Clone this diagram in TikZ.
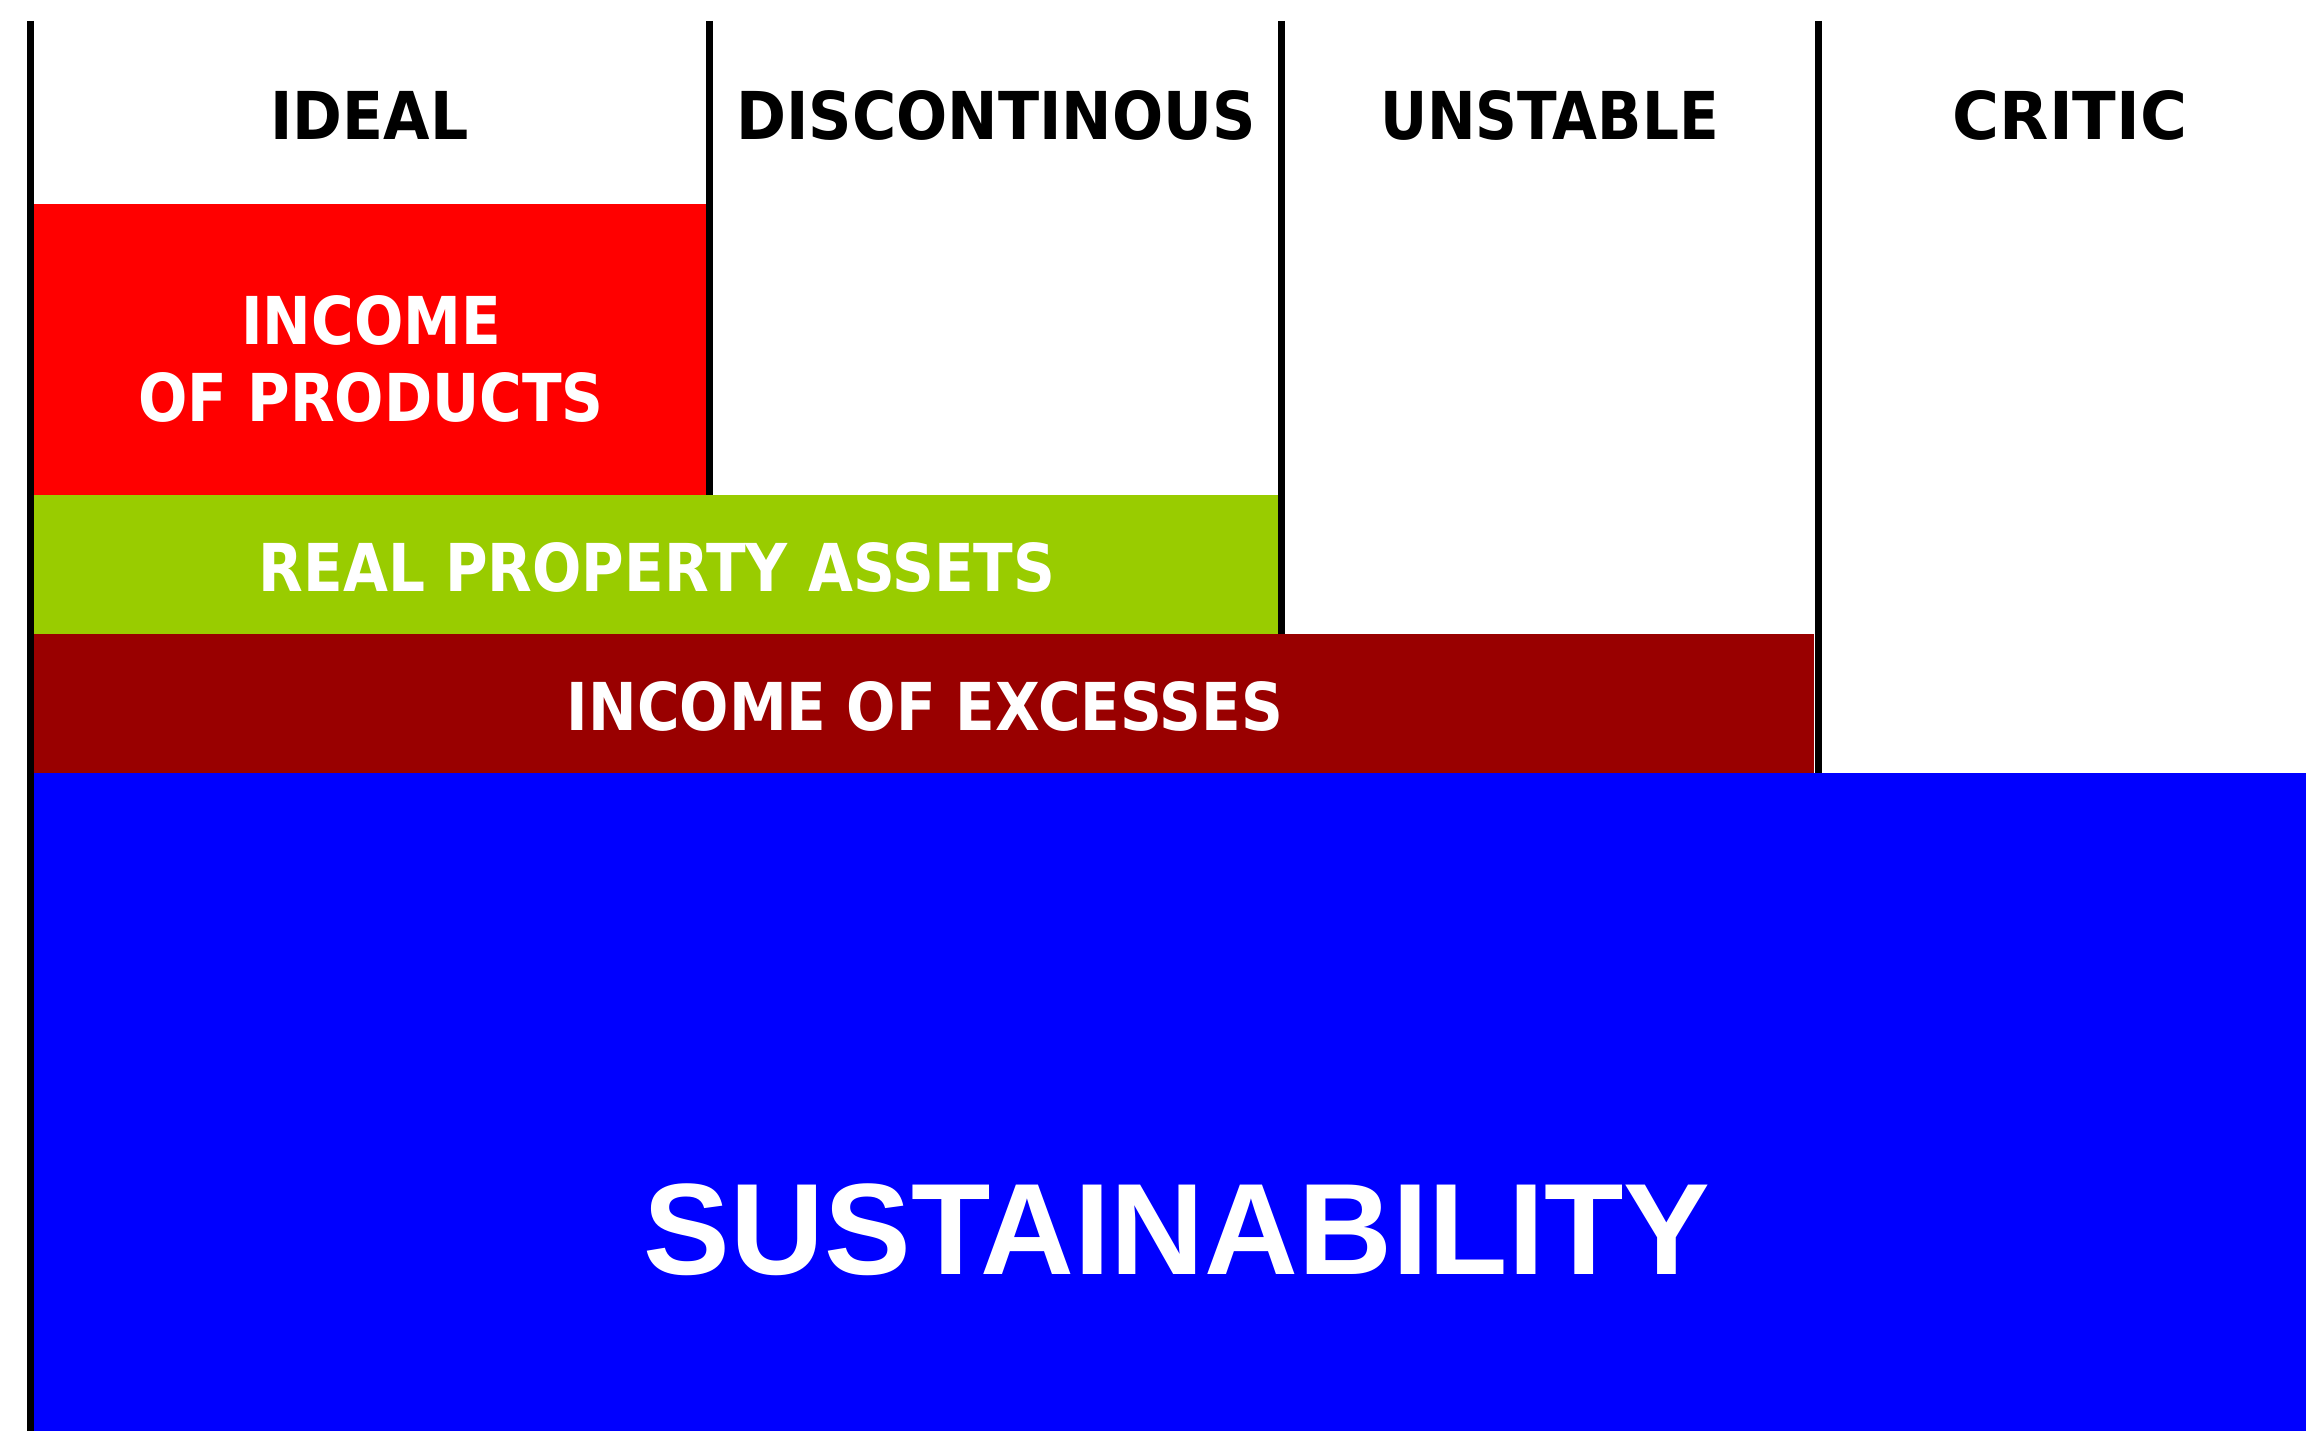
\documentclass[tikz,border=0pt]{standalone}
\usepackage{fontspec}
\setmainfont{DejaVu Sans}
\newfontfamily\bandfont[FakeStretch=0.88]{DejaVu Sans}
\newfontfamily\sustfont{Liberation Sans}
\definecolor{prodred}{HTML}{FF0000}
\definecolor{assetgreen}{HTML}{99CC00}
\definecolor{excessred}{HTML}{990000}
\definecolor{sustblue}{HTML}{0000FF}
\begin{document}
\begin{tikzpicture}[x=1pt,y=-1pt]
\tikzstyle{band}=[
	rectangle,
	inner sep=0pt ]
\tikzstyle{bandtext}=[
	inner sep=0pt,
	text=white,
	align=center,
	font=\bandfont\bfseries\fontsize{66}{77}\selectfont ]
\tikzstyle{head}=[inner sep=0pt, font=\bfseries\fontsize{66}{76}\selectfont]
\tikzstyle{divider}=[line width=7pt]
\useasboundingbox (0,0) rectangle (2306,1431);
% coloured bands
\node[band, fill=prodred, minimum width=673pt, minimum height=291pt] (products) at (370.5,349.5) {};
\node[band, fill=assetgreen, minimum width=1244pt, minimum height=139pt] (assets) at (656,564.5) {};
\node[band, fill=excessred, minimum width=1780pt, minimum height=139pt] (excesses) at (924,703.5) {};
\node[band, fill=sustblue, minimum width=2272pt, minimum height=658pt] (sust) at (1170,1102) {};
\node[bandtext] (productstext) at (371,358.5) {INCOME\\OF PRODUCTS};
\node[bandtext] (assetstext) at (657,567) {REAL PROPERTY ASSETS};
\node[bandtext] (excessestext) at (925,706) {INCOME OF EXCESSES};
\node[text=white, inner sep=0pt, font=\sustfont\bfseries\fontsize{130}{130}\selectfont] (susttext) at (1177,1230) {SUSTAINABILITY};
% column heads
\node[head] (ideal) at (369.5,115.5) {\scalebox{0.91}[1]{IDEAL}};
\node[head] (discont) at (996,115.5) {\scalebox{0.913}[1]{DISCONTINOUS}};
\node[head] (unstable) at (1549.5,115.5) {\scalebox{0.88}[1]{UNSTABLE}};
\node[head] (critic) at (2070,115.5) {\scalebox{0.97}[1]{CRITIC}};
% dividers
\draw[divider] (30,21) -- (30,1431);
\draw[divider] (709,21) -- (709,495);
\draw[divider] (1281,21) -- (1281,634);
\draw[divider] (1818,21) -- (1818,773);
\end{tikzpicture}
\end{document}
